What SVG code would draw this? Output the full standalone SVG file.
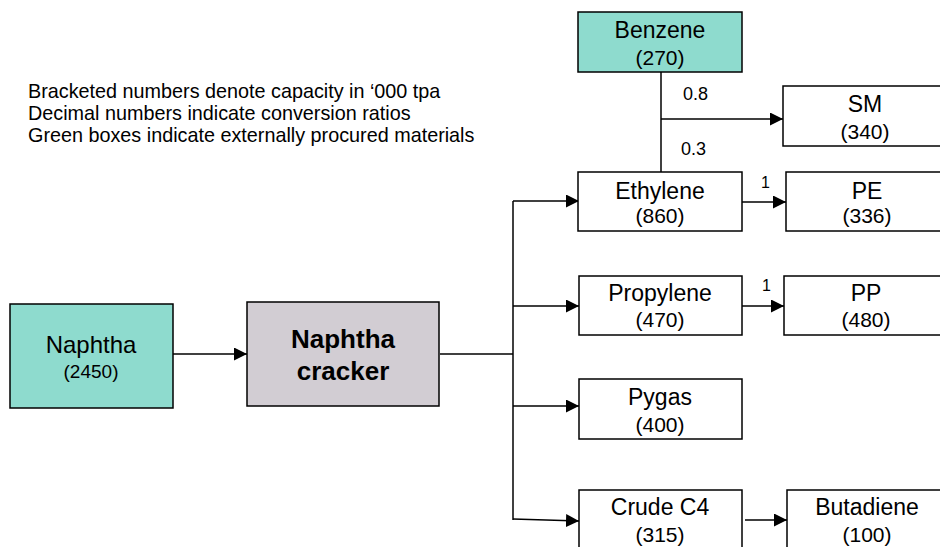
<svg xmlns="http://www.w3.org/2000/svg" width="940" height="547" viewBox="0 0 940 547">
  <defs>
    <marker id="arrow" viewBox="0 0 10 10" refX="10" refY="5" markerWidth="13" markerHeight="13" markerUnits="userSpaceOnUse" orient="auto">
      <path d="M0,0 L10,5 L0,10 z" fill="#000"/>
    </marker>
    <style>
      text { font-family: "Liberation Sans", Arial, sans-serif; fill: #000; }
      .box { fill: #fff; stroke: #000; stroke-width: 1.5; }
      .ext { fill: #8EDBCE; stroke: #000; stroke-width: 1.5; }
      .proc { fill: #D2CDD3; stroke: #000; stroke-width: 1.5; }
      .name { font-size: 23px; text-anchor: middle; }
      .cap { font-size: 21px; text-anchor: middle; }
      .bold { font-size: 26px; font-weight: bold; text-anchor: middle; }
      .note { font-size: 19.8px; }
      .ratio { font-size: 18px; }
      .one { font-size: 16px; }
      .line { fill: none; stroke: #000; stroke-width: 1.5; }
      .arr { fill: none; stroke: #000; stroke-width: 1.5; marker-end: url(#arrow); }
    </style>
  </defs>
  <rect width="940" height="547" fill="#fff"/>

  <!-- legend -->
  <g id="legend">
    <text class="note" x="28" y="98">Bracketed numbers denote capacity in ‘000 tpa</text>
    <text class="note" x="28" y="120">Decimal numbers indicate conversion ratios</text>
    <text class="note" x="28" y="142">Green boxes indicate externally procured materials</text>
  </g>

  <!-- connectors -->
  <g id="connectors">
    <path class="arr" d="M173,354 H247"/>
    <path class="line" d="M440,354 H513"/>
    <path class="line" d="M513,201 V520"/>
    <path class="arr" d="M513,201 H579"/>
    <path class="arr" d="M513,306 H579"/>
    <path class="arr" d="M513,406 H579"/>
    <path class="arr" d="M513,519 L579,521"/>
    <path class="line" d="M661,72 V172"/>
    <path class="arr" d="M661,119 H783"/>
    <path class="arr" d="M742,202 H786"/>
    <path class="arr" d="M742,306 H784"/>
    <path class="arr" d="M745,520 H787"/>
    <text class="ratio" x="683" y="100">0.8</text>
    <text class="ratio" x="681" y="155">0.3</text>
    <text class="one" x="761" y="188">1</text>
    <text class="one" x="762" y="291">1</text>
  </g>

  <g id="naphtha">
    <rect class="ext" x="10" y="304" width="163" height="104"/>
    <text x="91" y="353" font-size="24" text-anchor="middle">Naphtha</text>
    <text x="91" y="378" font-size="19" text-anchor="middle">(2450)</text>
  </g>

  <g id="cracker">
    <rect class="proc" x="247" y="302" width="192" height="104"/>
    <text class="bold" x="343" y="348">Naphtha</text>
    <text class="bold" x="343" y="380">cracker</text>
  </g>

  <g id="benzene">
    <rect class="ext" x="578" y="12" width="164" height="60"/>
    <text class="name" x="660" y="38">Benzene</text>
    <text class="cap" x="660" y="65">(270)</text>
  </g>

  <g id="sm">
    <rect class="box" x="783" y="86" width="164" height="60"/>
    <text class="name" x="865" y="112">SM</text>
    <text class="cap" x="865" y="139">(340)</text>
  </g>

  <g id="ethylene">
    <rect class="box" x="578" y="172" width="164" height="59"/>
    <text class="name" x="660" y="199">Ethylene</text>
    <text class="cap" x="660" y="223">(860)</text>
  </g>

  <g id="pe">
    <rect class="box" x="786" y="172" width="164" height="59"/>
    <text class="name" x="867" y="199">PE</text>
    <text class="cap" x="867" y="223">(336)</text>
  </g>

  <g id="propylene">
    <rect class="box" x="579" y="276" width="163" height="59"/>
    <text class="name" x="660" y="301">Propylene</text>
    <text class="cap" x="660" y="327">(470)</text>
  </g>

  <g id="pp">
    <rect class="box" x="784" y="276" width="164" height="59"/>
    <text class="name" x="866" y="301">PP</text>
    <text class="cap" x="866" y="327">(480)</text>
  </g>

  <g id="pygas">
    <rect class="box" x="579" y="379" width="163" height="60"/>
    <text class="name" x="660" y="405">Pygas</text>
    <text class="cap" x="660" y="432">(400)</text>
  </g>

  <g id="crude-c4">
    <rect class="box" x="579" y="490" width="163" height="70"/>
    <text class="name" x="660" y="515">Crude C4</text>
    <text class="cap" x="660" y="542">(315)</text>
  </g>

  <g id="butadiene">
    <rect class="box" x="787" y="490" width="164" height="70"/>
    <text class="name" x="867" y="515">Butadiene</text>
    <text class="cap" x="867" y="542">(100)</text>
  </g>
</svg>
